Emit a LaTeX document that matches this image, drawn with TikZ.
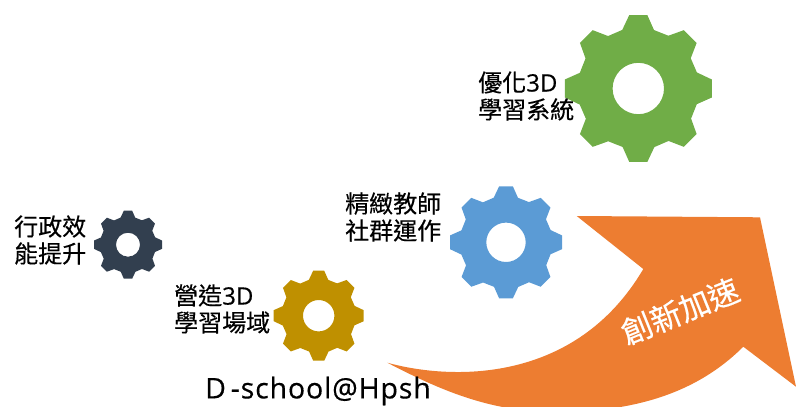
\documentclass[tikz,border=0pt]{standalone}
\usepackage{fontspec}
\setmainfont[FakeBold=0.35]{Open Sans}
\newfontfamily\cjk[FakeBold=0.35]{Noto Sans CJK TC}
\definecolor{gGreen}{HTML}{70AD47}
\definecolor{gBlue}{HTML}{5B9BD5}
\definecolor{gGold}{HTML}{BF9000}
\definecolor{gNavy}{HTML}{323F4F}
\definecolor{aOrange}{HTML}{ED7D31}
\newcommand{\gearshape}[5]{%
  \fill[#5,even odd rule,shift={(#1,#2)},scale=#3/220]
    (-27,-220)
    \foreach \a in {0,45,...,315}{
      -- ([rotate=-\a]-27,-220) -- ([rotate=-\a]27,-220) -- ([rotate=-\a]47,-175)
      -- ([rotate=-\a]90,-158)
    } -- cycle
    (0,0) circle[radius=#4*220/#3];
}
\newcommand{\lat}{\normalfont\fontsize{24}{27}\selectfont}
\tikzset{
  label2/.style={align=left,anchor=west,inner sep=0pt,font=\fontsize{24}{27}\selectfont,text=black},
}
\begin{document}
\begin{tikzpicture}[x=1pt,y=-1pt]
\useasboundingbox (0,0) rectangle (796,407);
\clip (0,0) rectangle (796,407);
\gearshape{638.3}{88.5}{73.5}{25.7}{gGreen}
\gearshape{506}{242.3}{56}{19.7}{gBlue}
\gearshape{318.7}{315.7}{45}{15.7}{gGold}
\gearshape{128}{244.7}{34}{12}{gNavy}
\fill[aOrange] (387.3,362.7)
  .. controls (450,380) and (575,385) .. (643.3,269)
  -- (576.7,216) -- (760,217.3) -- (796,386.7) -- (743.3,346.7)
  .. controls (690,400) and (620,412) .. (555,412)
  .. controls (490,412) and (440,390) .. (387.3,362.7) -- cycle;
\node[label2] (t1) at (478,96) {\cjk 優化\lat 3D\\\cjk 學習系統};
\node[label2] (t2) at (345,217) {\cjk 精緻教師\\\cjk 社群運作};
\node[label2] (t3) at (14,240) {\cjk 行政效\\\cjk 能提升};
\node[label2] (t4) at (174,309) {\cjk 營造\lat 3D\\\cjk 學習場域};
\node[inner sep=0pt,anchor=west,font=\fontsize{28.5}{32}\selectfont\addfontfeature{LetterSpace=3}] (t5) at (205,391) {D\,-school@Hpsh};
\node[inner sep=0pt,text=white,rotate=22,font=\cjk\fontsize{31}{36}\selectfont] (t6) at (680,311) {創新加速};
\end{tikzpicture}
\end{document}
